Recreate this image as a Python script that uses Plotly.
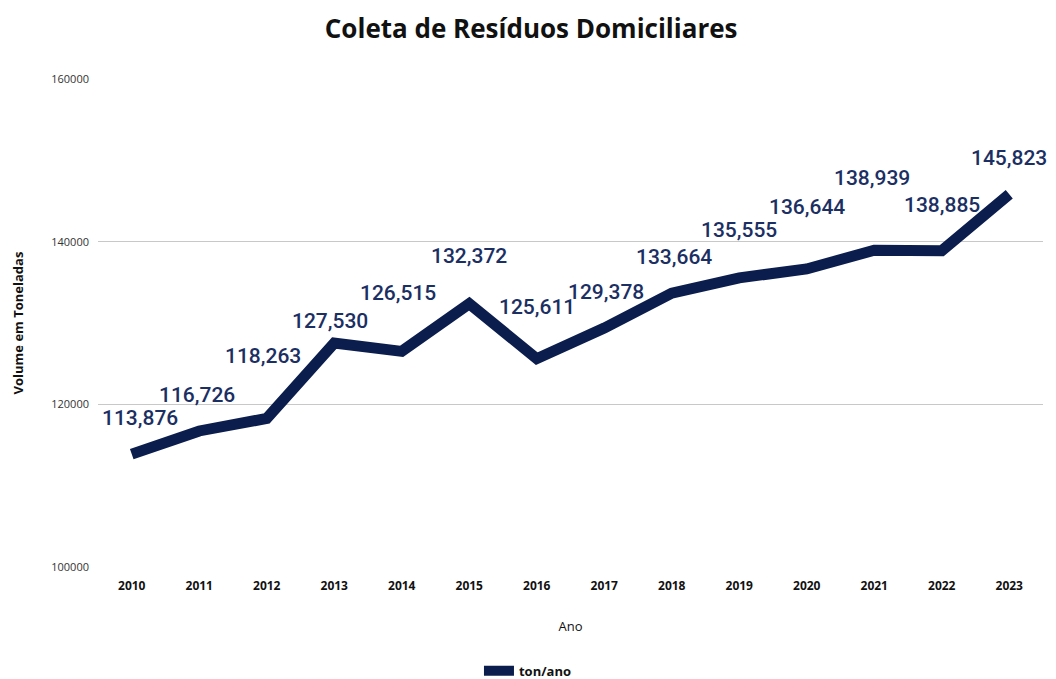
import plotly.graph_objects as go

years = ["2010", "2011", "2012", "2013", "2014", "2015", "2016",
         "2017", "2018", "2019", "2020", "2021", "2022", "2023"]
toneladas = [113876, 116726, 118263, 127530, 126515, 132372, 125611,
             129378, 133664, 135555, 136644, 138939, 138885, 145823]
# vertical offset (px) of each value label above its point
label_shift = [36, 36, 62, 22, 58, 48, 52, 36, 36, 48, 62, 72, 46, 36]
label_dx = [8, -2, -4, -4, -4, 0, 0, 2, 2, 0, 0, -2, 0, 0]

LINE = "#0b1d4d"
LABEL = "#1b2f63"

fig = go.Figure()
fig.add_trace(go.Scatter(
    x=years, y=toneladas, mode="lines", name="ton/ano",
    line=dict(color=LINE, width=11),
))

# on a category axis annotations are placed by category index
for i, (v, dy, dx) in enumerate(zip(toneladas, label_shift, label_dx)):
    fig.add_annotation(
        x=i, y=v, text=f"{v:,}", showarrow=False,
        yshift=dy, xshift=dx,
        font=dict(family="Roboto", size=21, color=LABEL, weight=500),
    )

fig.update_layout(
    width=1056, height=679,
    margin=dict(l=98, r=13, t=79, b=112, autoexpand=False),
    paper_bgcolor="white", plot_bgcolor="white",
    title=dict(text="<b>Coleta de Resíduos Domiciliares</b>", x=0.503, xanchor="center",
               y=0.958, yanchor="middle",
               font=dict(family="Open Sans", size=26, color="#111111")),
    showlegend=True,
    legend=dict(orientation="h", x=0.455, xanchor="center", yref="container",
                y=0.012, yanchor="middle",
                font=dict(family="Open Sans", size=13, color="#111111", weight=700)),
    xaxis=dict(
        type="category", range=[-0.5, len(years) - 0.5],
        showgrid=False, zeroline=False, showline=False, automargin=False,
        ticks="", ticklabelstandoff=10,
        tickfont=dict(family="Open Sans", size=12, color="#111111", weight=700),
        title=dict(text="Ano", font=dict(family="Open Sans", size=13, color="#111111"),
                   standoff=28),
    ),
    yaxis=dict(
        range=[100000, 160000], tickvals=[100000, 120000, 140000, 160000],
        tickformat="d", showgrid=True, gridcolor="#c8c8c8", gridwidth=1,
        zeroline=False, showline=False, ticks="", ticklabelstandoff=8, automargin=False,
        tickfont=dict(family="Open Sans", size=11, color="#333333"),
        title=dict(text="<b>Volume em Toneladas</b>",
                   font=dict(family="Open Sans", size=13, color="#111111"), standoff=24),
    ),
)

fig.write_html("out.html")
